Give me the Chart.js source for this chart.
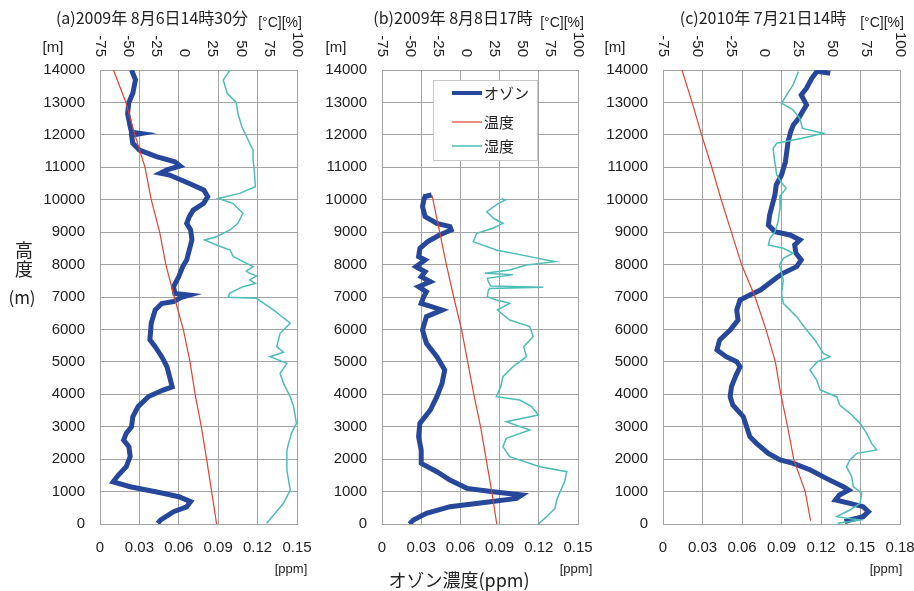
<!DOCTYPE html>
<html lang="ja">
<head>
<meta charset="utf-8">
<script src="https://cdn.jsdelivr.net/npm/chart.js@4.4.1/dist/chart.umd.min.js"></script>
<style>
  html, body { margin: 0; padding: 0; background: #fff; }
  #wrap { position: relative; width: 914px; height: 591px; overflow: hidden; background: #fff; }
  canvas { position: absolute; top: 0; }
  .lbl {
    position: absolute; white-space: nowrap; transform: translate(-50%, -50%);
    color: #222; font-family: "Noto Sans CJK JP", "Liberation Sans", sans-serif; line-height: 1;
  }
  .num { font-family: "Liberation Sans", Arial, sans-serif; }
</style>
</head>
<body>
<div id="wrap">
  <canvas id="chartA" width="313" height="591" style="left:0px"></canvas>
  <canvas id="chartB" width="304" height="591" style="left:290px"></canvas>
  <canvas id="chartC" width="346" height="591" style="left:570px"></canvas>

  <div class="lbl" style="left:152px;top:17px;font-size:16px">(a)2009年 8月6日14時30分</div>
  <div class="lbl" style="left:453px;top:17px;font-size:16px">(b)2009年 8月8日17時</div>
  <div class="lbl" style="left:763px;top:17px;font-size:16px">(c)2010年 7月21日14時</div>

  <div class="lbl num" style="left:280px;top:22px;font-size:14px">[°C][%]</div>
  <div class="lbl num" style="left:562px;top:22px;font-size:14px">[°C][%]</div>
  <div class="lbl num" style="left:882px;top:22px;font-size:14px">[°C][%]</div>

  <div class="lbl num" style="left:53px;top:46px;font-size:15px">[m]</div>
  <div class="lbl num" style="left:336px;top:46px;font-size:15px">[m]</div>
  <div class="lbl num" style="left:615px;top:46px;font-size:15px">[m]</div>

  <div class="lbl num" style="left:291px;top:568px;font-size:13px">[ppm]</div>
  <div class="lbl num" style="left:576px;top:568px;font-size:13px">[ppm]</div>
  <div class="lbl num" style="left:886px;top:568px;font-size:13px">[ppm]</div>

  <div class="lbl" style="left:459px;top:579px;font-size:18px">オゾン濃度(ppm)</div>

  <div class="lbl" style="left:24px;top:249px;font-size:18px">高</div>
  <div class="lbl" style="left:24px;top:268px;font-size:18px">度</div>
  <div class="lbl" style="left:22px;top:296px;font-size:17px">(m)</div>
</div>

<script>
// axis ticks
const heightTicks = [0, 1000, 2000, 3000, 4000, 5000, 6000, 7000, 8000, 9000, 10000, 11000, 12000, 13000, 14000];
const ppmTicksAB = [0, 0.03, 0.06, 0.09, 0.12, 0.15];
const ppmTicksC = [0, 0.03, 0.06, 0.09, 0.12, 0.15, 0.18];
const tempTicks = [-75, -50, -25, 0, 25, 50, 75, 100];

const seriesNames = ['オゾン', '温度', '湿度'];

// (a) 2009-08-06 14:30
const ozoneHeightA = [14000, 13700, 13280, 13000, 12665, 12250, 12080, 12040, 11990, 11740, 11530, 11330, 11170, 11040,
  10920, 10815, 10760, 10500, 10300, 10100, 9890, 9680, 9480, 9270, 9070, 8760, 8450, 8140, 7940, 7630, 7320, 7110,
  7060, 6990, 6860, 6800, 6600, 6190, 5680, 5470, 5160, 4850, 4540, 4230, 4130, 3930, 3620, 3310, 3000, 2800, 2590,
  2380, 2080, 1770, 1510, 1300, 1150, 950, 840, 690, 530, 380, 120, 20];
const ozoneA = [0.024, 0.027, 0.025, 0.022, 0.021, 0.023, 0.024, 0.031, 0.024, 0.025, 0.030, 0.043, 0.057, 0.061,
  0.051, 0.046, 0.053, 0.068, 0.079, 0.082, 0.079, 0.071, 0.068, 0.066, 0.069, 0.070, 0.068, 0.066, 0.063, 0.060, 0.056, 0.057,
  0.068, 0.062, 0.056, 0.047, 0.042, 0.039, 0.038, 0.042, 0.047, 0.051, 0.053, 0.055, 0.048, 0.037, 0.029, 0.025, 0.024, 0.020, 0.018,
  0.022, 0.023, 0.020, 0.014, 0.010, 0.023, 0.048, 0.060, 0.069, 0.066, 0.056, 0.046, 0.044];
const tempHeightA = heightTicks;
const tempA = [28.6, 24.2, 19.7, 15, 9.5, 5, -1, -9, -16.5, -22, -29.5, -35, -44, -52, -63];
const humidHeightA = [14000, 13690, 13280, 13000, 12665, 12250, 11740, 11530, 11225, 10917, 10400, 10196, 10040, 9890,
  9580, 9272, 9067, 8860, 8758, 8605, 8450, 8245, 7936, 7800, 7730, 7650, 7525, 7420, 7319, 7113, 6990, 6960, 6600,
  6190, 5880, 5470, 5300, 5160, 4955, 4645, 4337, 3926, 3618, 3104, 2797, 2282, 1664, 1048, 637, 329, 20];
const humidA = [40.5, 34.5, 38, 46, 47.5, 51, 58, 61, 61, 62, 63, 49, 30, 43,
  52, 47.5, 40.5, 28.5, 18, 28.5, 40.5, 43.5, 61, 55, 58, 64, 58, 63, 52, 40, 39, 64, 79,
  94, 85, 82, 88, 76, 91, 85, 88, 94, 97, 99.5, 95, 91, 91, 94, 88, 80.5, 73];

// (b) 2009-08-08 17:00
const ozoneHeightB = [10146, 10100, 9990, 9786, 9478, 9272, 9170, 9067, 8913, 8707, 8502, 8245, 8142, 7936, 7780, 7627,
  7470, 7319, 7160, 7010, 6805, 6600, 6395, 5983, 5572, 5160, 4749, 4338, 3926, 3515, 3104, 2693, 2282, 1870, 1613,
  1356, 1099, 996, 893, 790, 688, 534, 329, 123, 0];
const ozoneB = [0.038, 0.033, 0.032, 0.031, 0.033, 0.042, 0.052, 0.053, 0.044, 0.035, 0.029, 0.028, 0.033, 0.026, 0.033, 0.030,
  0.037, 0.028, 0.034, 0.032, 0.030, 0.046, 0.034, 0.031, 0.034, 0.042, 0.048, 0.046, 0.042, 0.037, 0.029, 0.028, 0.030, 0.030, 0.042,
  0.052, 0.065, 0.085, 0.107, 0.103, 0.083, 0.052, 0.034, 0.024, 0.021];
const tempHeightB = [0, 1000, 2000, 3000, 4000, 5000, 6000, 7000, 8000, 9000, 10000, 10146];
const tempB = [27.5, 23, 18, 13, 7, 1.5, -4, -11, -17.5, -23.5, -29.5, -30.6];
const humidHeightB = [10040, 9990, 9890, 9630, 9420, 9272, 9120, 8963, 8707, 8450, 8245, 8090, 7985, 7833, 7730, 7690,
  7576, 7473, 7340, 7300, 7260, 7216, 7010, 6908, 6805, 6600, 6292, 6087, 5778, 5470, 5160, 4852, 4543, 4235, 3926,
  3824, 3618, 3361, 3155, 2898, 2640, 2384, 2075, 1767, 1613, 1305, 996, 740, 483, 226, 0];
const humidB = [32, 35, 29, 18.5, 25, 33, 24, 9.5, 6.5, 27, 57, 79.5, 54, 39, 17, 42,
  19, 20, 22, 69, 21, 20, 19, 27, 39, 28, 39, 57, 60, 51.5, 54, 42, 33, 31, 27,
  48, 58.7, 64.6, 36, 57, 36, 33, 39, 66, 90, 88, 84, 81, 79.5, 72, 64.6];

// (c) 2010-07-21 14:00
const ozoneHeightC = [13900, 13960, 13745, 13437, 13230, 12922, 12717, 12511, 12306, 12100, 11790, 11483, 11175, 10763,
  10455, 10147, 9838, 9530, 9220, 9015, 8913, 8758, 8605, 8348, 8142, 7936, 7730, 7525, 7216, 7062, 6908, 6600, 6292,
  5983, 5675, 5367, 5160, 5005, 4850, 4543, 4234, 3926, 3670, 3310, 3000, 2693, 2487, 2178, 1973, 1870, 1664, 1407,
  1150, 1048, 893, 740, 637, 534, 380, 226, 123, 70];
const ozoneC = [0.127, 0.117, 0.113, 0.109, 0.105, 0.109, 0.106, 0.103, 0.099, 0.097, 0.095, 0.094, 0.093, 0.090,
  0.086, 0.085, 0.083, 0.081, 0.080, 0.085, 0.0965, 0.104, 0.100, 0.101, 0.105, 0.1015, 0.091, 0.084, 0.074, 0.066, 0.0585, 0.056, 0.057,
  0.051, 0.043, 0.041, 0.048, 0.056, 0.0585, 0.055, 0.052, 0.051, 0.053, 0.061, 0.0635, 0.066, 0.071, 0.080, 0.089, 0.099, 0.112, 0.124,
  0.137, 0.141, 0.134, 0.131, 0.142, 0.152, 0.156, 0.152, 0.142, 0.138];
const tempHeightC = [100, 1000, 2000, 3000, 4000, 5000, 6000, 7000, 8000, 9000, 10000, 11000, 12000, 13000, 14000];
const tempC = [34, 30, 21.5, 17, 12, 8, 1, -7, -17, -24.5, -32, -39, -46.5, -53.5, -61];
const humidHeightC = [13950, 13540, 13230, 12975, 12770, 12510, 12200, 12050, 11890, 11740, 11585, 11175, 10763, 10558,
  10353, 10147, 9735, 9324, 9015, 8810, 8605, 8502, 8348, 8194, 7990, 7833, 7525, 7113, 6805, 6395, 5983, 5675, 5263,
  5160, 5005, 4750, 4440, 4132, 3926, 3670, 3413, 3104, 2796, 2487, 2282, 2178, 1973, 1767, 1458, 1150, 945, 637, 432,
  226, 123, 20];
const humidC = [25, 21, 16.3, 12.6, 21, 26, 28, 43.4, 27, 9, 6.3, 7.5, 9, 12,
  16, 12, 11.4, 10, 7.7, 4, 2.8, 13.8, 21, 13.8, 11, 12, 13.8, 12.6, 13.8, 23.7, 31, 37.2, 43.4,
  48.3, 39, 33.5, 38.5, 41, 53.3, 55.5, 63, 70.5, 75.4, 79, 82.8, 68, 63, 60.5, 64.3, 65.5, 71.7, 70.5, 63,
  53.3, 70.5, 54];

const OZONE_COLOR = '#27479a';
const TEMP_COLOR = '#e5412f';
const HUMID_COLOR = '#4dbdb5';
const GRID_COLOR = '#a3a3a3';
const TICK_FONT = { family: '"Liberation Sans", Arial, sans-serif', size: 15 };

function toPoints(heights, values) {
  return heights.map((h, i) => ({ x: values[i], y: h }));
}

// rotated labels of the upper (°C / %) axis, read top to bottom
const topAxisLabels = {
  id: 'topAxisLabels',
  afterDraw(chart) {
    const scale = chart.scales.x2;
    const { ctx } = chart;
    ctx.save();
    ctx.fillStyle = '#222';
    ctx.font = `${TICK_FONT.size}px ${TICK_FONT.family}`;
    ctx.textAlign = 'right';
    ctx.textBaseline = 'middle';
    tempTicks.forEach((v) => {
      ctx.save();
      ctx.translate(scale.getPixelForValue(v), chart.chartArea.top - 13);
      ctx.rotate(Math.PI / 2);
      ctx.fillText(String(v), 0, 0);
      ctx.restore();
    });
    ctx.restore();
  },
};

// framed legend inside plot (b)
const boxLegend = {
  id: 'boxLegend',
  afterDraw(chart, args, opts) {
    if (!opts.show) return;
    const { ctx, chartArea } = chart;
    const left = chartArea.left + 51;
    const top = chartArea.top + 10;
    ctx.save();
    ctx.fillStyle = '#fff';
    ctx.strokeStyle = '#c8c8c8';
    ctx.lineWidth = 1;
    ctx.fillRect(left, top, 104, 80);
    ctx.strokeRect(left + 0.5, top + 0.5, 104, 80);
    const rows = [13, 42, 66];
    chart.data.datasets.forEach((ds, i) => {
      const y = top + rows[i];
      ctx.strokeStyle = ds.borderColor;
      ctx.lineWidth = Math.min(ds.borderWidth, 4);
      ctx.beginPath();
      ctx.moveTo(left + 19, y);
      ctx.lineTo(left + 49, y);
      ctx.stroke();
      ctx.fillStyle = '#222';
      ctx.font = '15px "Noto Sans CJK JP", sans-serif';
      ctx.textAlign = 'left';
      ctx.textBaseline = 'middle';
      ctx.fillText(ds.label, left + 51, y);
    });
    ctx.restore();
  },
};

function makeChart(id, cfg) {
  const canvas = document.getElementById(id);
  return new Chart(canvas.getContext('2d'), {
    type: 'scatter',
    data: {
      datasets: [
        {
          label: seriesNames[0],
          data: toPoints(cfg.ozoneHeight, cfg.ozone),
          xAxisID: 'x',
          borderColor: OZONE_COLOR,
          borderWidth: 5,
          order: 2,
        },
        {
          label: seriesNames[1],
          data: toPoints(cfg.tempHeight, cfg.temp),
          xAxisID: 'x2',
          borderColor: TEMP_COLOR,
          borderWidth: 1.2,
          order: 1,
        },
        {
          label: seriesNames[2],
          data: toPoints(cfg.humidHeight, cfg.humid),
          xAxisID: 'x2',
          borderColor: HUMID_COLOR,
          borderWidth: 1.5,
          order: 1,
        },
      ].map((ds) => ({ ...ds, showLine: true, pointRadius: 0, fill: false, tension: 0 })),
    },
    options: {
      responsive: false,
      animation: false,
      layout: { padding: { left: 0, right: 16, top: 0, bottom: 0 } },
      scales: {
        x: {
          type: 'linear',
          position: 'bottom',
          min: 0,
          max: cfg.ppmTicks[cfg.ppmTicks.length - 1],
          afterBuildTicks: (scale) => { scale.ticks = cfg.ppmTicks.map((v) => ({ value: v })); },
          afterFit: (scale) => { scale.height = 67; },
          grid: { color: GRID_COLOR, drawTicks: true, tickLength: 15, tickColor: 'rgba(0,0,0,0)' },
          border: { color: GRID_COLOR },
          ticks: {
            color: '#222',
            font: TICK_FONT,
            padding: 0,
            maxRotation: 0,
            callback: (v) => (v === 0 ? '0' : Number(v).toFixed(2)),
          },
        },
        x2: {
          type: 'linear',
          position: 'top',
          min: tempTicks[0],
          max: tempTicks[tempTicks.length - 1],
          afterFit: (scale) => { scale.height = 70; },
          grid: { display: false },
          border: { display: false },
          ticks: { display: false },
        },
        y: {
          type: 'linear',
          min: 0,
          max: 14000,
          afterBuildTicks: (scale) => { scale.ticks = heightTicks.map((v) => ({ value: v })); },
          afterFit: (scale) => { scale.width = cfg.yAxisWidth; },
          grid: { color: GRID_COLOR, drawTicks: false },
          border: { color: GRID_COLOR },
          ticks: { color: '#222', font: TICK_FONT, padding: 15, callback: (v) => String(v) },
        },
      },
      plugins: {
        legend: { display: false },
        tooltip: { enabled: false },
        boxLegend: { show: !!cfg.legend },
      },
    },
    plugins: [topAxisLabels, boxLegend],
  });
}

makeChart('chartA', {
  ozoneHeight: ozoneHeightA, ozone: ozoneA, tempHeight: tempHeightA, temp: tempA,
  humidHeight: humidHeightA, humid: humidA, ppmTicks: ppmTicksAB, yAxisWidth: 100,
});
makeChart('chartB', {
  ozoneHeight: ozoneHeightB, ozone: ozoneB, tempHeight: tempHeightB, temp: tempB,
  humidHeight: humidHeightB, humid: humidB, ppmTicks: ppmTicksAB, yAxisWidth: 92, legend: true,
});
makeChart('chartC', {
  ozoneHeight: ozoneHeightC, ozone: ozoneC, tempHeight: tempHeightC, temp: tempC,
  humidHeight: humidHeightC, humid: humidC, ppmTicks: ppmTicksC, yAxisWidth: 93,
});
</script>
</body>
</html>
